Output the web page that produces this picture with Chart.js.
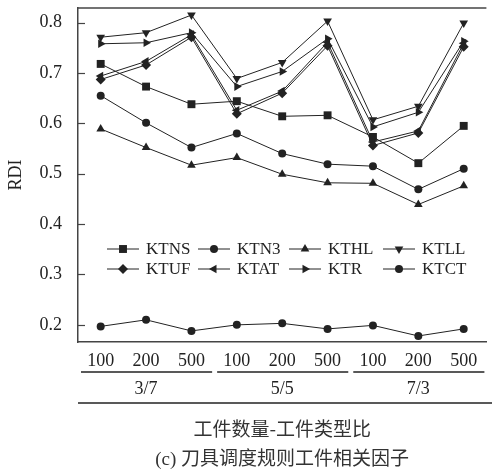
<!DOCTYPE html>
<html>
<head>
<meta charset="utf-8">
<script src="https://cdn.jsdelivr.net/npm/chart.js@4/dist/chart.umd.min.js"></script>
<style>
html,body{margin:0;padding:0;background:#fff;}
#wrap{width:492px;height:474px;position:relative;}
.prime{position:absolute;left:-1000px;top:0;font-size:10px;}
</style>
</head>
<body>
<div class="prime" style="font-family:'Liberation Serif'">KTNS 0.8</div>
<div class="prime" style="font-family:'Noto Sans CJK SC'">工件数量</div>
<div id="wrap"><canvas id="c" width="492" height="474"></canvas></div>
<script>
// ---- data ----
const categories = ['100','200','500','100','200','500','100','200','500'];
const groups = ['3/7','5/5','7/3'];
const yTicks = [0.2,0.3,0.4,0.5,0.6,0.7,0.8];
const KTNS = [0.718,0.673,0.638,0.644,0.614,0.616,0.573,0.521,0.595];
const KTN3 = [0.655,0.601,0.552,0.580,0.540,0.519,0.515,0.469,0.510];
const KTHL = [0.589,0.552,0.517,0.532,0.499,0.482,0.481,0.439,0.476];
const KTLL = [0.771,0.780,0.815,0.689,0.721,0.803,0.607,0.634,0.799];
const KTUF = [0.687,0.716,0.771,0.619,0.660,0.754,0.556,0.581,0.752];
const KTAT = [0.694,0.723,0.776,0.626,0.664,0.761,0.563,0.585,0.759];
const KTR  = [0.758,0.760,0.780,0.673,0.703,0.768,0.593,0.622,0.763];
const KTCT = [0.197,0.210,0.188,0.200,0.203,0.192,0.199,0.178,0.192];
const xTitle = '工件数量-工件类型比';
const caption = '(c) 刀具调度规则工件相关因子';

const INK = '#222';
const SERIF = "'Liberation Serif', 'DejaVu Serif', serif";

function ds(label, data, style, rot, r){
  return {label, data, borderColor: INK, backgroundColor: INK, borderWidth: 1,
    pointStyle: style, pointRotation: rot, pointRadius: r, pointHoverRadius: r,
    pointBorderWidth: 0, pointBackgroundColor: INK, tension: 0, clip: false};
}
const datasets = [
  ds('KTNS', KTNS, 'rect', 0, 5.6),
  ds('KTN3', KTN3, 'circle', 0, 4),
  ds('KTHL', KTHL, 'triangle', 0, 5),
  ds('KTLL', KTLL, 'triangle', 180, 5),
  ds('KTUF', KTUF, 'rectRot', 0, 5),
  ds('KTAT', KTAT, 'triangle', -90, 5),
  ds('KTR',  KTR,  'triangle', 90, 5),
  ds('KTCT', KTCT, 'circle', 0, 4)
];

function marker(ctx, d, x, y){
  const h = Chart.helpers;
  ctx.save();
  ctx.fillStyle = INK; ctx.strokeStyle = INK; ctx.lineWidth = 0;
  h.drawPoint(ctx, {pointStyle: d.pointStyle, rotation: d.pointRotation, radius: d.pointRadius, borderWidth: 0}, x, y);
  ctx.restore();
}

const decor = {
  id: 'decor',
  afterDraw(chart){
    const ctx = chart.ctx, a = chart.chartArea;
    const xs = chart.scales.x, ys = chart.scales.y;
    ctx.save();
    ctx.strokeStyle = '#444'; ctx.lineWidth = 1.5;
    ctx.beginPath(); ctx.moveTo(a.left, a.top); ctx.lineTo(a.right, a.top); ctx.stroke();
    ctx.lineWidth = 1.2;
    yTicks.forEach(v => {
      const y = Math.round(ys.getPixelForValue(v)) + 0.5;
      ctx.beginPath(); ctx.moveTo(a.left, y); ctx.lineTo(a.left + 7, y); ctx.stroke();
    });
    const step = xs.getPixelForValue(1) - xs.getPixelForValue(0);
    ctx.strokeStyle = '#222'; ctx.lineWidth = 1.5;
    ctx.fillStyle = INK; ctx.font = '18px ' + SERIF;
    ctx.textAlign = 'center'; ctx.textBaseline = 'middle';
    groups.forEach((g, i) => {
      const x0 = xs.getPixelForValue(i*3) - step/2 + 3;
      const x1 = xs.getPixelForValue(i*3+2) + step/2 - 2;
      ctx.beginPath(); ctx.moveTo(x0, 372); ctx.lineTo(Math.min(x1, chart.width - 1), 372); ctx.stroke();
      ctx.fillText(g, xs.getPixelForValue(i*3+1), 389);
    });
    ctx.beginPath(); ctx.moveTo(a.left, 403); ctx.lineTo(chart.width, 403); ctx.stroke();
    const cx = (a.left + a.right)/2;
    ctx.font = "19px 'Noto Sans CJK SC', sans-serif";
    ctx.fillStyle = '#333';
    ctx.fillText(xTitle, cx, 429);
    ctx.font = "19px 'Liberation Serif', 'Noto Sans CJK SC', serif";
    ctx.fillText(caption, cx, 460);
    ctx.font = '17px ' + SERIF; ctx.textAlign = 'left'; ctx.fillStyle = INK;
    const colX = [107, 198, 289, 383], rowY = [249, 269];
    chart.data.datasets.forEach((d, i) => {
      const x0 = colX[i % 4], y = rowY[Math.floor(i/4)];
      ctx.strokeStyle = INK; ctx.lineWidth = 1;
      ctx.beginPath(); ctx.moveTo(x0, y); ctx.lineTo(x0 + 32, y); ctx.stroke();
      marker(ctx, d, x0 + 16, y);
      ctx.fillStyle = INK;
      ctx.fillText(d.label, x0 + 39, y + 1);
    });
    ctx.restore();
  }
};

function build(){
  new Chart(document.getElementById('c'), {
    type: 'line',
    data: { labels: categories, datasets },
    options: {
      responsive: false, animation: false,
      layout: { padding: { top: 8, right: 0, left: 5, bottom: 0 } },
      plugins: { legend: { display: false }, tooltip: { enabled: false } },
      scales: {
        x: {
          offset: true,
          grid: { display: false, drawTicks: false },
          border: { display: true, color: '#444', width: 1.5 },
          ticks: { color: INK, font: { family: SERIF, size: 18 }, padding: 8, maxRotation: 0, autoSkip: false },
          afterFit(s){ s.height = 132; s.paddingLeft = 0; s.paddingRight = 0; }
        },
        y: {
          min: 0.166, max: 0.829,
          grid: { display: false, drawTicks: false },
          border: { display: true, color: '#444', width: 1.5 },
          ticks: { color: INK, font: { family: SERIF, size: 18 }, padding: 16, callback: v => Number(v).toFixed(1) },
          afterBuildTicks(s){ s.ticks = yTicks.map(v => ({ value: v })); },
          title: { display: true, text: 'RDI', color: INK, font: { family: SERIF, size: 18 }, padding: { top: 0, bottom: 0 } },
          afterFit(s){ s.width = 73; s.paddingTop = 0; s.paddingBottom = 0; }
        }
      }
    },
    plugins: [decor]
  });
}
const loads = [
  document.fonts.load("18px 'Liberation Serif'"),
  document.fonts.load("19px 'Noto Sans CJK SC'", '工件')
];
Promise.all(loads).then(build, build);
</script>
</body>
</html>
